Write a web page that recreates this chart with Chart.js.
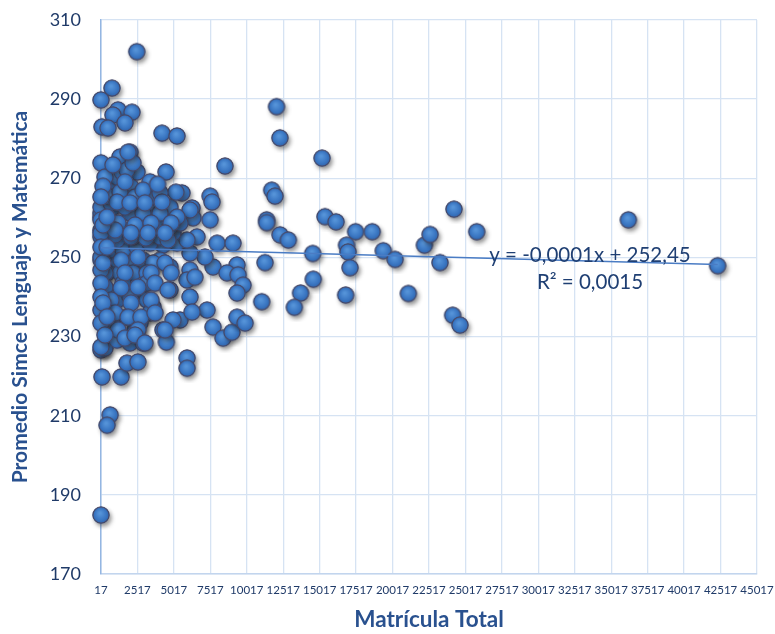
<!DOCTYPE html>
<html>
<head>
<meta charset="utf-8">
<script src="https://cdn.jsdelivr.net/npm/chart.js@4.4.1/dist/chart.umd.min.js"></script>
<style>
  html, body { margin: 0; padding: 0; background: #fff; }
  #wrap { width: 775px; height: 634px; }
</style>
</head>
<body>
<div id="wrap"><canvas id="grafico"></canvas></div>
<script>
// datos: matricula total vs promedio simce
const matricula = [
  2470, 770, 17, 1180, 840, 2140, 1660, 85, 500, 4200, 5230, 17, 2010, 1320, 2490, 4480, 8520, 5570, 7500, 6260,
  12060, 12290, 15180, 11730, 11950, 11380, 11380, 12300, 12870, 15380, 16140, 17480, 18620, 14540, 16860, 16960, 17100, 16800, 19380, 20190,
  13710, 13280, 14580, 11270, 11040, 21100, 22200, 22590, 23270, 24230, 24140, 24640, 25790, 36190, 42320, 17, 640, 430, 85, 1390,
  5920, 5920, 17, 290, 7630, 6330, 6120, 7500, 7980, 9070, 9350, 7700, 8660, 9420, 9760, 9350, 7150, 6120, 5230, 4270,
  4060, 4750, 6120, 5920, 4750, 6120, 5440, 4270, 4500, 7290, 7700, 8390, 9000, 9350, 9900, 6260, 6460, 6600, 5920,
  17, 840, 2490, 3580, 4750, 17, 1115, 2010, 2900, 3580, 640, 1525, 2490, 3380, 150, 1115, 2210, 3170, 4060, 4960,
  17, 1115, 2010, 2900, 3860, 4750, 5440, 17, 2010, 2900, 4060, 5230, 430, 1320, 2210, 3170, 150, 1525, 2490, 3170,
  640, 1115, 2010, 3170, 3580, 3380, 2350, 840, 1800, 2690, 17, 1115, 2010, 2900, 1800, 2550,
  17, 980, 2070, 3100, 4610, 17, 1390, 2550, 4410, 290, 1660, 3450, 4820, 290, 1390, 2550, 3720, 4610, 700, 2070,
  3450, 980, 1870, 2760, 3720, 4960, 1180, 2550, 4410, 1660, 2350, 3030,
  980, 500, 2070, 3450, 17, 700, 1660, 17, 1180, 2350, 3450, 4820, 17, 980, 2070, 3240, 4410, 3380, 5160,
  290, 1460, 1800, 2210, 840, 1870, 640, 1320, 2350, 2900, 4060, 1660, 1115, 2010, 3030, 150, 4200, 3900,
  17, 17, 17, 17, 17, 17, 17, 150, 150, 150, 290, 430, 430, 430
];
const simce = [
  302.0, 292.8, 289.8, 287.3, 286.0, 286.7, 284.0, 283.0, 282.7, 281.4, 280.7, 273.9, 276.6, 275.4, 271.6, 271.6, 273.1, 266.3, 265.5, 262.5,
  288.1, 280.2, 275.1, 267.0, 265.5, 259.5, 258.8, 255.7, 254.4, 260.3, 259.0, 256.5, 256.5, 251.0, 253.1, 251.4, 247.4, 240.5, 251.7, 249.5,
  241.0, 237.4, 244.5, 248.7, 238.8, 240.9, 253.1, 255.8, 248.7, 262.2, 235.4, 232.9, 256.5, 259.5, 247.9, 184.9, 210.2, 207.6, 219.8, 219.8,
  224.6, 222.0, 226.6, 227.1, 264.0, 260.0, 262.0, 259.5, 253.6, 253.6, 248.1, 247.6, 246.1, 245.6, 243.0, 241.0, 250.1, 251.1, 253.6, 253.1,
  249.3, 247.6, 246.8, 244.3, 241.8, 240.0, 234.2, 231.7, 228.6, 236.7, 232.4, 229.6, 231.1, 234.9, 233.4, 236.2, 245.0, 255.2, 254.4,
  260.2, 262.7, 262.0, 262.7, 262.7, 249.3, 249.3, 248.6, 249.3, 248.6, 251.9, 251.9, 252.6, 253.6, 254.4, 254.4, 255.2, 256.2, 255.2, 256.2,
  256.9, 257.7, 256.9, 258.7, 257.7, 257.7, 258.7, 261.2, 261.2, 261.2, 261.2, 260.2, 246.1, 246.1, 246.1, 246.1, 242.5, 243.5, 241.8, 243.5,
  241.0, 239.2, 240.0, 239.2, 237.5, 236.0, 231.7, 233.4, 234.9, 233.4, 227.4, 229.1, 228.4, 228.4, 223.3, 223.6,
  255.2, 255.7, 255.2, 254.9, 254.4, 250.1, 249.3, 250.1, 248.6, 246.1, 246.1, 246.1, 246.1, 242.5, 242.3, 242.5, 243.5, 241.8, 239.2, 238.5,
  239.2, 236.0, 234.9, 234.9, 236.0, 234.2, 231.7, 231.7, 231.7, 229.6, 230.4, 228.4,
  270.3, 267.0, 267.8, 265.3, 262.7, 263.7, 262.7, 259.5, 258.7, 258.2, 258.7, 258.7, 256.2, 256.9, 256.2, 256.2, 256.2, 269.1, 266.5,
  270.3, 271.6, 272.1, 273.9, 273.4, 276.6, 265.3, 266.5, 265.3, 267.0, 266.3, 269.1, 264.0, 263.8, 263.8, 268.0, 264.0, 268.5,
  265.3, 252.6, 246.8, 243.5, 240.0, 236.7, 233.4, 258.2, 248.6, 238.5, 230.4, 235.0, 252.6, 260.2
];

// linea de tendencia (extremos)
const tendenciaX = [17, 42320];
const tendenciaY = [252.45, 248.2];
const textoEcuacion = "y = -0,0001x + 252,45";
const textoR2 = "R² = 0,0015";
const posEtiqueta = { x: 33560, y1: 250.6, y2: 243.8 };

const ejeX = { min: 17, max: 45017, paso: 2500, titulo: "Matrícula Total" };
const ejeY = { min: 170, max: 310, paso: 20, titulo: "Promedio Simce Lenguaje y Matemática" };

// esfera azul con sombra para cada punto
function crearEsfera() {
  const c = document.createElement("canvas");
  c.width = 30; c.height = 30;
  const g = c.getContext("2d");
  g.save();
  g.shadowColor = "rgba(40,40,40,0.5)";
  g.shadowBlur = 4;
  g.shadowOffsetX = 2;
  g.shadowOffsetY = 3;
  g.beginPath();
  g.arc(15, 15, 8.6, 0, Math.PI * 2);
  g.fillStyle = "#2d64ad";
  g.fill();
  g.restore();
  const grad = g.createRadialGradient(14, 13, 1, 15, 15, 9);
  grad.addColorStop(0, "#5593d8");
  grad.addColorStop(0.6, "#3a76c2");
  grad.addColorStop(1, "#2c60a8");
  g.beginPath();
  g.arc(15, 15, 8.1, 0, Math.PI * 2);
  g.fillStyle = grad;
  g.fill();
  g.lineWidth = 1.1;
  g.strokeStyle = "rgba(78,66,86,0.85)";
  g.stroke();
  return c;
}

const puntos = matricula.map((x, i) => ({ x: x, y: simce[i] }));
const tendencia = tendenciaX.map((x, i) => ({ x: x, y: tendenciaY[i] }));

const etiquetaTendencia = {
  id: "etiquetaTendencia",
  afterDatasetsDraw(chart) {
    const { ctx, scales } = chart;
    ctx.save();
    ctx.fillStyle = "#1f3f73";
    ctx.font = "20.5px Lato, 'Open Sans', sans-serif";
    ctx.textAlign = "center";
    ctx.textBaseline = "middle";
    const px = scales.x.getPixelForValue(posEtiqueta.x);
    ctx.fillText(textoEcuacion, px, scales.y.getPixelForValue(posEtiqueta.y1));
    ctx.fillText(textoR2, px, scales.y.getPixelForValue(posEtiqueta.y2));
    ctx.restore();
  }
};

// quitar el relleno automatico de las escalas para fijar el area del grafico
function sinRelleno(s) {
  s.paddingTop = 0;
  s.paddingBottom = 0;
  s.paddingLeft = 0;
  s.paddingRight = 0;
}

const ctx = document.getElementById("grafico").getContext("2d");
const grafico = new Chart(ctx, {
  type: "scatter",
  data: {
    datasets: [
      {
        label: "Tendencia",
        type: "line",
        data: tendencia,
        borderColor: "#4a7cc4",
        borderWidth: 1.4,
        pointRadius: 0,
        fill: false,
        order: 0
      },
      {
        label: "Simce",
        data: puntos,
        pointStyle: crearEsfera(),
        pointRadius: 9,
        clip: false,
        order: 1
      }
    ]
  },
  options: {
    responsive: true,
    maintainAspectRatio: false,
    animation: false,
    layout: { padding: { top: 20, right: 18, bottom: 0, left: 0 } },
    plugins: { legend: { display: false }, tooltip: { enabled: false } },
    scales: {
      x: {
        type: "linear",
        min: ejeX.min,
        max: ejeX.max,
        afterFit(s) { s.height = 60; sinRelleno(s); },
        ticks: {
          stepSize: ejeX.paso,
          autoSkip: false,
          maxRotation: 0,
          padding: 9,
          color: "#1f3a68",
          font: { family: "Lato, 'Open Sans', sans-serif", size: 11.5 },
          callback: v => String(v)
        },
        grid: { color: "#d6e3f3", lineWidth: 1.3, drawTicks: false },
        border: { color: "#c2d5ee", width: 1.5 },
        title: {
          display: true,
          text: ejeX.titulo,
          color: "#29518f",
          font: { family: "Lato, 'Open Sans', sans-serif", size: 22.5, weight: "bold" },
          padding: { top: 2, bottom: 1 }
        }
      },
      y: {
        min: ejeY.min,
        max: ejeY.max,
        afterFit(s) { s.width = 101; sinRelleno(s); },
        ticks: {
          stepSize: ejeY.paso,
          padding: 20,
          color: "#1f3a68",
          font: { family: "Lato, 'Open Sans', sans-serif", size: 18 }
        },
        grid: { color: "#d6e3f3", lineWidth: 1.3, drawTicks: false },
        border: { color: "#94b6e2", width: 1.5 },
        title: {
          display: true,
          text: ejeY.titulo,
          color: "#29518f",
          font: { family: "Lato, 'Open Sans', sans-serif", size: 21, weight: "bold" },
          padding: { top: 8, bottom: 0 }
        }
      }
    }
  },
  plugins: [etiquetaTendencia]
});
</script>
</body>
</html>
